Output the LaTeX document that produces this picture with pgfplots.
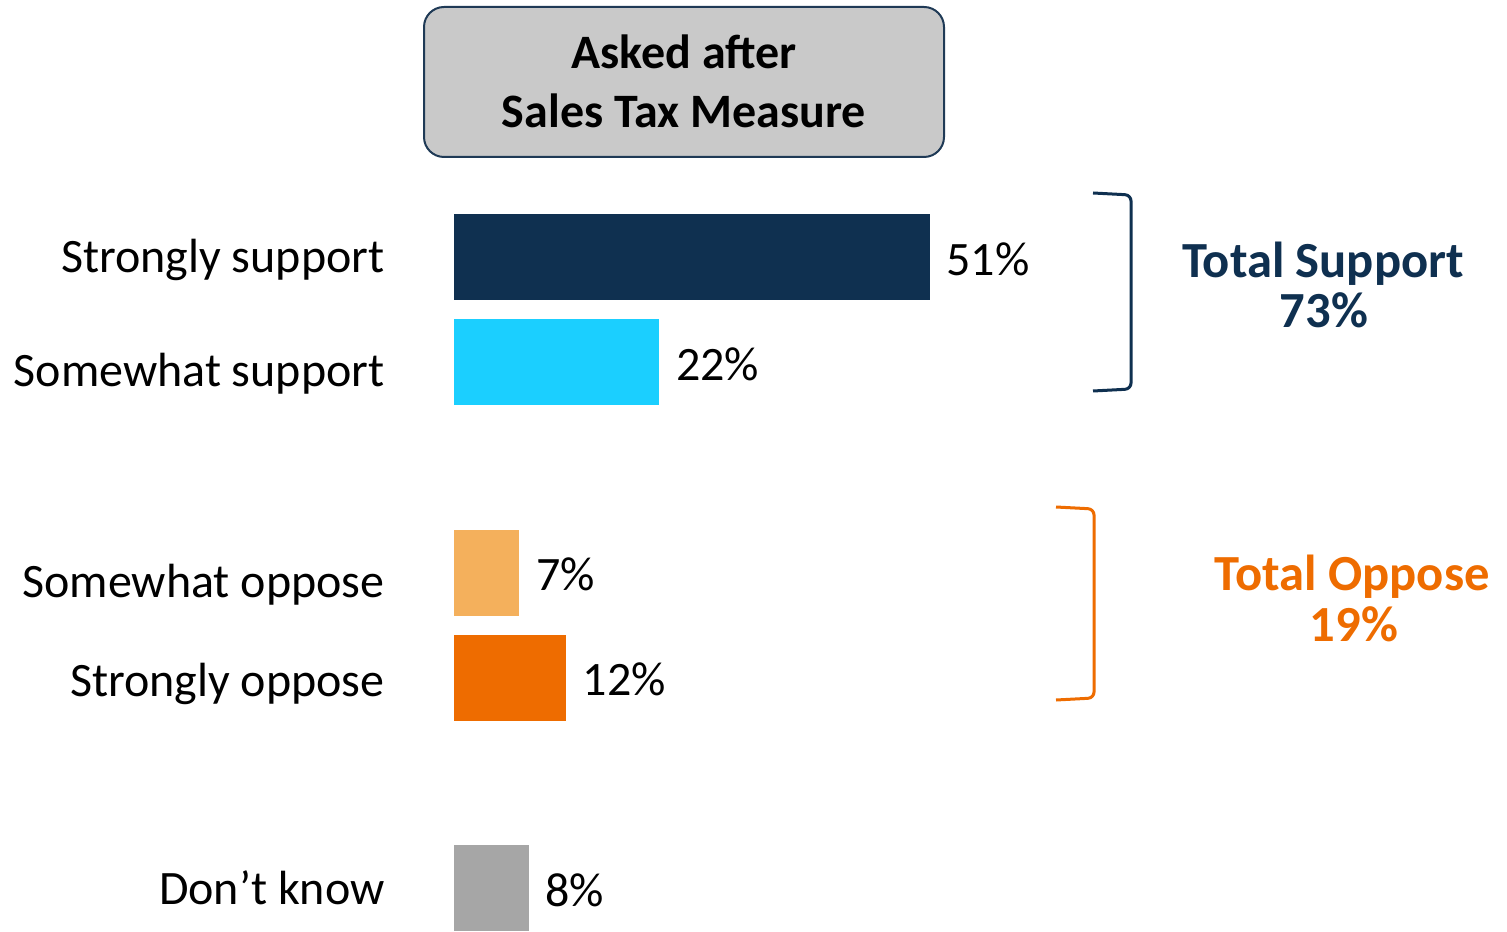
\documentclass[border=0pt]{standalone}
\usepackage{pgfplots}
\pgfplotsset{compat=1.18}
\usepackage{fontspec}
\setmainfont{Carlito}
\definecolor{navy}{HTML}{0F3050}
\definecolor{cyanb}{HTML}{1BCFFF}
\definecolor{lorange}{HTML}{F4B05C}
\definecolor{dorange}{HTML}{EE6C00}
\definecolor{grayb}{HTML}{A6A6A6}
\definecolor{boxfill}{HTML}{C9C9C9}
\definecolor{boxline}{HTML}{1F3A56}
\begin{document}
\begin{tikzpicture}
\begin{scope}[x=0.5pt,y=-0.5pt]
\path[use as bounding box] (0,0) rectangle (1507,931);
\end{scope}
\begin{axis}[
  at={(227pt,-102.2pt)}, anchor=north west,
  scale only axis, width=466.5pt, height=363.4pt,
  xmin=0, xmax=100, ymin=-0.5, ymax=6.409, y dir=reverse,
  xbar, bar width=43pt, bar shift=0pt,
  axis line style={draw=none}, xtick=\empty,
  ytick={0,1,3,4,6},
  yticklabels={Strongly support,\raisebox{-4.5pt}{Somewhat support},\raisebox{-4.75pt}{Somewhat oppose},\raisebox{-1.5pt}{Strongly oppose},\raisebox{-0.5pt}{Don’t know}},
  major tick length=0pt,
  yticklabel style={font=\fontsize{24}{28}\selectfont, anchor=east, inner sep=0pt, xshift=-34.5pt, text height=15.5pt, text depth=0pt},
  clip=false,
  /pgf/number format/assume math mode=true,
  nodes near coords={\pgfmathprintnumber{\pgfplotspointmeta}\%},
  every node near coord/.append style={font=\fontsize{24}{28}\selectfont, text=black, anchor=west, inner sep=0pt, xshift=8.2pt, yshift=-1.3pt, text height=15.5pt, text depth=0pt},
]
\addplot[fill=navy, draw=none] coordinates {(51,0)};
\addplot[fill=cyanb, draw=none] coordinates {(22,1)};
\addplot[fill=lorange, draw=none] coordinates {(7,3)};
\addplot[fill=dorange, draw=none] coordinates {(12,4)};
\addplot[fill=grayb, draw=none] coordinates {(8,6)};
\end{axis}
\begin{scope}[x=0.5pt,y=-0.5pt]
\draw[boxline, fill=boxfill, line width=1pt, rounded corners=10pt] (424,7) rectangle (944,157);
\node[anchor=base, inner sep=0pt, font=\fontsize{24}{28}\selectfont\bfseries] at (684,68.5) {Asked after};
\node[anchor=base, inner sep=0pt, font=\fontsize{24}{28}\selectfont\bfseries] at (684,128) {Sales Tax Measure};
\draw[navy, line width=1.5pt, rounded corners=3pt] (1093,193) -- (1131,195) -- (1131,389) -- (1093,391);
\draw[dorange, line width=1.5pt, rounded corners=3pt] (1056,507) -- (1094,509) -- (1094,698) -- (1056,700);
\node[anchor=base, inner sep=0pt, text=navy, font=\fontsize{25.3}{30}\selectfont\bfseries] at (1323,278) {Total Support};
\node[anchor=base, inner sep=0pt, text=navy, font=\fontsize{25.3}{30}\selectfont\bfseries] at (1324,328) {73\%};
\node[anchor=base, inner sep=0pt, text=dorange, font=\fontsize{25.3}{30}\selectfont\bfseries] at (1352,590) {Total Oppose};
\node[anchor=base, inner sep=0pt, text=dorange, font=\fontsize{25.3}{30}\selectfont\bfseries] at (1354,641) {19\%};
\end{scope}
\end{tikzpicture}
\end{document}
